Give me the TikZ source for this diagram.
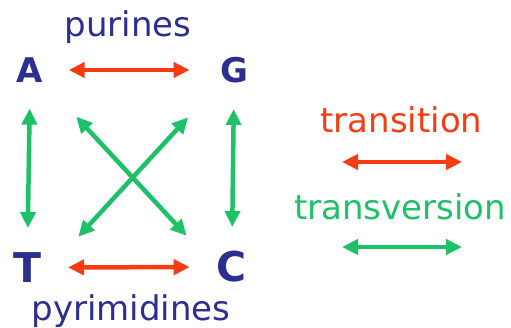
\documentclass[tikz,border=0pt]{standalone}
\usepackage{fontspec}
\setmainfont{DejaVu Sans}
\usetikzlibrary{arrows.meta,positioning}
\definecolor{basecol}{HTML}{2B2F8F}
\definecolor{tsred}{HTML}{F63C12}
\definecolor{tvgreen}{HTML}{1DC167}
\tikzset{
    nuc/.style={font=\fontsize{#1}{#1}\selectfont\bfseries,text=basecol},
    group/.style={font=\fontsize{34}{34}\selectfont,text=basecol,anchor=base},
    legend/.style={font=\fontsize{34}{34}\selectfont,text=#1,anchor=base},
    mut/.style={line width=4.5pt,draw=#1,{Triangle[length=16pt,width=15pt]}-{Triangle[length=16pt,width=15pt]}},
    ts/.style={mut=tsred},
    tv/.style={mut=tvgreen}
}
\begin{document}
\begin{tikzpicture}[x=1pt,y=-1pt]
  \useasboundingbox (0,0) rectangle (511,328);
  % Bases
  \node[nuc=34] (A) at (30,70) {A};
  \node[nuc=34] (G) at (234,70) {G};
  \node[nuc=41] (T) at (27.5,267.5) {T};
  \node[nuc=41] (C) at (232,267) {C};
  \node[group] (pur) at (128,37) {purines};
  \node[group] (pyr) at (131,320) {pyrimidines};

  % Transitions
  \draw[ts,shorten <=22pt,shorten >=27pt] (A) -- (G);
  \draw[ts,shorten <=23pt,shorten >=23.7pt] (T) -- (C);

  % Transversions
  \draw[tv,shorten <=22.7pt,shorten >=21pt] (A.south) -- (T.north);
  \draw[tv,shorten <=22.7pt,shorten >=21pt] (G.south) -- (C.north);
  \draw[tv,shorten <=42pt,shorten >=16.6pt] ([xshift=1pt]A.south east) -- ([xshift=-15.5pt]C.north west);
  \draw[tv,shorten <=42pt,shorten >=16.6pt] (G.south west) -- ([xshift=22pt]T.north east);

  % Legend
  \node[legend=tsred] (tslab) at (401.5,133) {transition};
  \node[legend=tvgreen] (tvlab) at (400,220) {transversion};
  \coordinate (tsl) at (342,162);
  \coordinate (tsr) at (462,162);
  \coordinate (tvl) at (342,247);
  \coordinate (tvr) at (462,247);
  \draw[ts] (tsl) -- (tsr);
  \draw[tv] (tvl) -- (tvr);
\end{tikzpicture}
\end{document}
